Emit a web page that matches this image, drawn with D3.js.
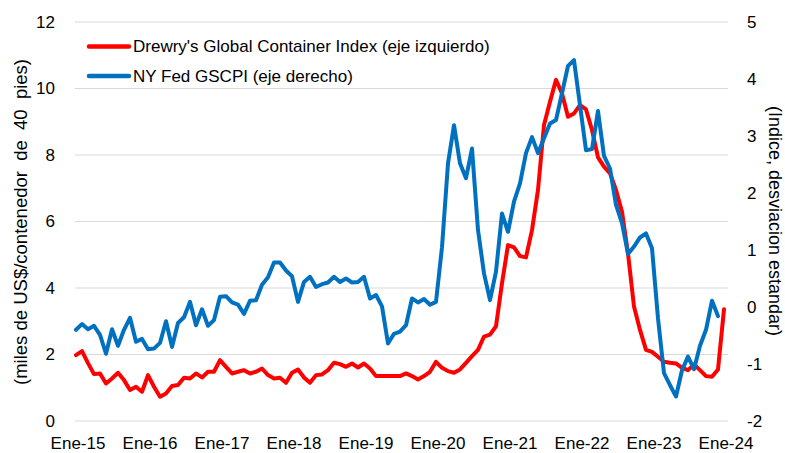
<!DOCTYPE html>
<html>
<head>
<meta charset="utf-8">
<script src="https://cdn.jsdelivr.net/npm/d3@7"></script>
<style>
  body { margin: 0; background: #fff; }
  svg { font-family: "Liberation Sans", Arial, sans-serif; }
</style>
</head>
<body>
<div id="chart"></div>
<script>
// Drewry WCI, miles de US$ por contenedor de 40 pies (Ene-15 .. Ene-24)
var drewry = [
  1.98, 2.10, 1.74, 1.41, 1.43, 1.13, 1.28, 1.45, 1.23, 0.93, 1.03, 0.88,
  1.38, 1.03, 0.73, 0.83, 1.05, 1.08, 1.30, 1.28, 1.43, 1.31, 1.48, 1.48,
  1.83, 1.63, 1.43, 1.48, 1.53, 1.43, 1.48, 1.58, 1.38, 1.28, 1.30, 1.15,
  1.45, 1.55, 1.31, 1.15, 1.38, 1.40, 1.53, 1.75, 1.71, 1.63, 1.73, 1.61,
  1.73, 1.58, 1.35, 1.35, 1.35, 1.35, 1.35, 1.43, 1.35, 1.25, 1.35, 1.48,
  1.78, 1.60, 1.50, 1.45, 1.55, 1.75, 1.95, 2.14, 2.54, 2.60, 2.85, 4.14,
  5.29, 5.22, 4.96, 4.92, 5.74, 6.95, 8.90, 9.60, 10.26, 9.85, 9.15, 9.25,
  9.50, 9.37, 8.75, 7.93, 7.65, 7.45, 6.95, 6.29, 5.04, 3.44, 2.74, 2.14,
  2.08, 1.93, 1.78, 1.75, 1.73, 1.60, 1.53, 1.70, 1.53, 1.35, 1.33, 1.55,
  3.36
];

// NY Fed GSCPI, desviaciones estandar (Ene-15 .. Dic-23)
var gscpi = [
  -0.40, -0.30, -0.39, -0.33, -0.49, -0.82, -0.39, -0.68, -0.40, -0.19, -0.61, -0.56,
  -0.74, -0.73, -0.63, -0.25, -0.70, -0.28, -0.18, 0.09, -0.32, -0.04, -0.33, -0.23,
  0.18, 0.19, 0.08, 0.04, -0.12, 0.11, 0.12, 0.39, 0.52, 0.78, 0.78, 0.64,
  0.54, 0.09, 0.44, 0.53, 0.35, 0.40, 0.43, 0.53, 0.44, 0.50, 0.43, 0.44,
  0.53, 0.15, 0.21, 0.01, -0.64, -0.47, -0.43, -0.32, 0.15, 0.08, 0.14, 0.04,
  0.09, 1.05, 2.52, 3.19, 2.52, 2.26, 2.78, 1.35, 0.59, 0.12, 0.62, 1.64,
  1.32, 1.85, 2.17, 2.70, 2.98, 2.70, 2.96, 3.22, 3.28, 3.75, 4.23, 4.33,
  3.54, 2.75, 2.77, 3.44, 2.65, 2.43, 1.79, 1.47, 0.93, 1.06, 1.22, 1.29,
  1.03, -0.20, -1.16, -1.37, -1.57, -1.11, -0.87, -1.09, -0.68, -0.40, 0.11, -0.16
];

var yearLabels = ["Ene-15", "Ene-16", "Ene-17", "Ene-18", "Ene-19",
                  "Ene-20", "Ene-21", "Ene-22", "Ene-23", "Ene-24"];
var leftTicks = [0, 2, 4, 6, 8, 10, 12];
var rightTicks = [-2, -1, 0, 1, 2, 3, 4, 5];

var seriesNames = ["Drewry's Global Container Index (eje izquierdo)",
                   "NY Fed GSCPI (eje derecho)"];
var colors = ["#ff0000", "#0070c0"];

var width = 785, height = 453;
var plot = {left: 75, right: 728, top: 22, bottom: 421};

var svg = d3.select("#chart").append("svg")
    .attr("width", width)
    .attr("height", height);

// month index -> x
var x = d3.scaleLinear()
    .domain([0, drewry.length - 1])
    .range([76, 724]);

var yLeft = d3.scaleLinear().domain([0, 12]).range([plot.bottom, plot.top]);
var yRight = d3.scaleLinear().domain([-2, 5]).range([plot.bottom, plot.top]);

// gridlines (left axis)
svg.append("g")
  .selectAll("line")
  .data(leftTicks)
  .enter().append("line")
    .attr("x1", plot.left)
    .attr("x2", plot.right)
    .attr("y1", function(d) { return yLeft(d); })
    .attr("y2", function(d) { return yLeft(d); })
    .attr("stroke", "#d9d9d9")
    .attr("stroke-width", 1);

// axes
var xAxis = svg.append("g")
    .attr("transform", "translate(0," + plot.bottom + ")")
    .call(d3.axisBottom(x)
      .tickValues(d3.range(0, drewry.length, 12))
      .tickFormat(function(d, i) { return yearLabels[i]; })
      .tickSize(0)
      .tickPadding(16));

var leftAxis = svg.append("g")
    .attr("transform", "translate(" + plot.left + ",0)")
    .call(d3.axisLeft(yLeft).tickValues(leftTicks).tickSize(0).tickPadding(20));

var rightAxis = svg.append("g")
    .attr("transform", "translate(" + plot.right + ",0)")
    .call(d3.axisRight(yRight).tickValues(rightTicks).tickSize(0).tickPadding(19));

[xAxis, leftAxis, rightAxis].forEach(function(g) {
  g.select(".domain").remove();
  g.selectAll("text")
    .attr("fill", "#000")
    .style("font-size", "17px")
    .style("font-family", "'Liberation Sans', Arial, sans-serif");
});
xAxis.selectAll("text").attr("x", 1.5);
rightAxis.selectAll("text").text(function(d) { return d; });

// axis titles
svg.append("text")
    .attr("transform", "translate(22,222) rotate(-90)")
    .attr("text-anchor", "middle")
    .attr("dominant-baseline", "middle")
    .style("font-size", "18.5px")
    .style("white-space", "pre")
    .attr("xml:space", "preserve")
    .text("(miles de US$/contenedor  de  40  pies)");

svg.append("text")
    .attr("transform", "translate(774,221) rotate(90)")
    .attr("text-anchor", "middle")
    .attr("dominant-baseline", "middle")
    .style("font-size", "18px")
    .text("(Indice, desviacion estandar)");

// lines
var lineLeft = d3.line()
    .x(function(d, i) { return x(i); })
    .y(function(d) { return yLeft(d); });

var lineRight = d3.line()
    .x(function(d, i) { return x(i); })
    .y(function(d) { return yRight(d); });

svg.append("path")
    .datum(drewry)
    .attr("fill", "none")
    .attr("stroke", colors[0])
    .attr("stroke-width", 4)
    .attr("stroke-linejoin", "round")
    .attr("stroke-linecap", "round")
    .attr("d", lineLeft);

svg.append("path")
    .datum(gscpi)
    .attr("fill", "none")
    .attr("stroke", colors[1])
    .attr("stroke-width", 4)
    .attr("stroke-linejoin", "round")
    .attr("stroke-linecap", "round")
    .attr("d", lineRight);

// legend
var legend = svg.append("g")
  .selectAll("g")
  .data(seriesNames)
  .enter().append("g")
    .attr("transform", function(d, i) { return "translate(0," + (46.5 + i * 29.5) + ")"; });

legend.append("line")
    .attr("x1", 89).attr("x2", 129)
    .attr("stroke", function(d, i) { return colors[i]; })
    .attr("stroke-width", 4.5)
    .attr("stroke-linecap", "round");

legend.append("text")
    .attr("x", 133)
    .attr("dy", "0.35em")
    .style("font-size", "17px")
    .text(function(d) { return d; });
</script>
</body>
</html>
